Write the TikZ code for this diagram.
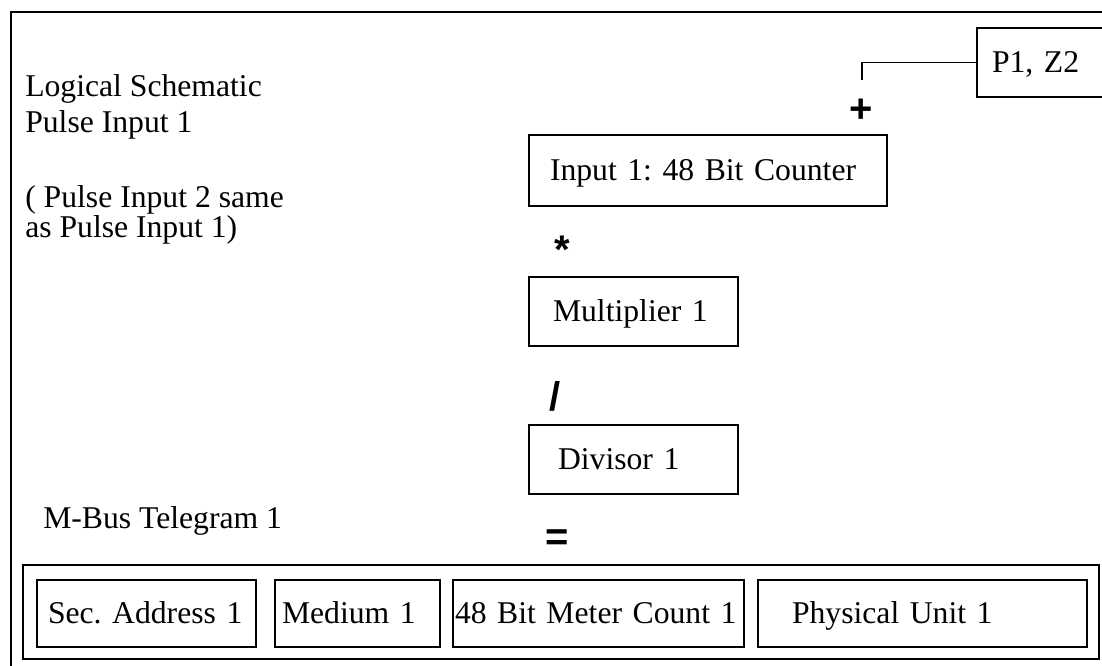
\documentclass[tikz,border=0pt]{standalone}
\usepackage{fontspec}
\setmainfont{Liberation Serif}
\setsansfont{Liberation Sans}
\usetikzlibrary{positioning}
\frenchspacing

\tikzset{
  box/.style={draw, line width=1.1pt, inner ysep=0pt, minimum height=51.75pt, align=left,
    text height=15.7pt, text depth=0pt},
  txt/.style={inner sep=0pt, anchor=base west},
  op/.style={inner sep=0pt, font=\sffamily\bfseries\fontsize{30}{32}\selectfont}
}

\begin{document}
\begin{tikzpicture}[x=0.75pt, y=-0.75pt, font=\fontsize{23.75}{28}\selectfont]
  \useasboundingbox (0,0) rectangle (1102,666);
  % outer frame
  \draw[line width=1.1pt] (11,700) -- (11,12) -- (1130,12);

  % titles
  \node[txt] (title) at (25,97) {Logical Schematic};
  \node[txt] (pulse) at (25,133) {Pulse Input 1};
  \node[txt] (note) at (25,208) {( Pulse Input 2 same};
  \node[txt] (notes) at (25,238) {as Pulse Input 1)};
  \node[txt] (mbus) at (43,528) {M-Bus Telegram 1};

  % counter chain
  \node[box, inner xsep=11.25pt, text width=90pt] (pz) at (1052,62.5) {P1, Z2};
  \node[box, minimum height=53.25pt, inner xsep=15.75pt, text width=237pt] (counter) at (708,170.5) {Input 1: 48 Bit Counter};
  \node[box, inner xsep=18pt, text width=120.75pt] (mult) at (633.5,311.5) {\mbox{Multiplier 1}};
  \node[box, inner xsep=21.75pt, text width=113.25pt] (div) at (633.5,459.5) {Divisor 1};

  \node[op] (plus) at (861,111) {+};
  \node[op] (times) at (562,250) {*};
  \node[op] (over) at (555,396) {/};
  \node[op] (equals) at (557,540) {=};

  \coordinate (plustop) at (862,80);
  \draw[line width=0.9pt] (pz.west) -| (plustop);

  % telegram
  \node[draw, line width=1.1pt, inner sep=0pt, minimum width=807pt, minimum height=70.5pt] (tele) at (561,612) {};
  \node[box, minimum height=50.25pt, inner xsep=8.25pt, text width=147.75pt] (sec) at (146.5,613.5) {\mbox{Sec. Address 1}};
  \node[box, minimum height=50.25pt, inner xsep=5.25pt, text width=113.25pt] (medium) at (357.5,613.5) {Medium 1};
  \node[box, minimum height=50.25pt, inner xsep=1.5pt, text width=215.25pt] (count) at (598.5,613.5) {\mbox{48 Bit Meter Count 1}};
  \node[box, minimum height=50.25pt, inner xsep=25.5pt, text width=195.75pt] (unit) at (922.5,613.5) {Physical Unit 1};
\end{tikzpicture}
\end{document}
